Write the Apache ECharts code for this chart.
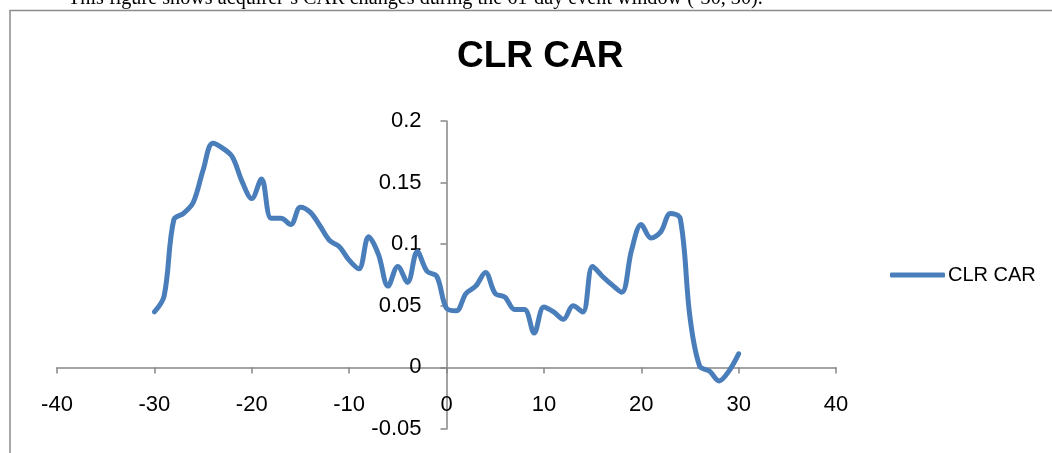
<!DOCTYPE html>
<html>
<head>
<meta charset="utf-8">
<script src="https://cdn.jsdelivr.net/npm/echarts@6/dist/echarts.min.js"></script>
<style>
  html, body { margin: 0; padding: 0; background: #fff; }
  #chart { width: 1052px; height: 453px; }
</style>
</head>
<body>
<div id="chart"></div>
<script>
// Event days of the 61-day window
const days = [];
for (let d = -30; d <= 30; d++) days.push(d);

// Cumulative abnormal return for each event day
const carValues = [
  0.045, 0.058, 0.120, 0.125, 0.134, 0.160, 0.182, 0.178, 0.171, 0.151,
  0.137, 0.153, 0.121, 0.121, 0.116, 0.130, 0.126, 0.115, 0.103, 0.098,
  0.087, 0.080, 0.106, 0.092, 0.066, 0.082, 0.069, 0.094, 0.078, 0.074,
  0.048, 0.046, 0.060, 0.066, 0.077, 0.060, 0.057, 0.047, 0.047, 0.028,
  0.049, 0.045, 0.039, 0.050, 0.045, 0.082, 0.074, 0.067, 0.061, 0.095,
  0.116, 0.105, 0.110, 0.125, 0.121, 0.041, 0.001, -0.003, -0.011, -0.003,
  0.011
];

const seriesName = 'CLR CAR';
const caption = 'This figure shows acquirer\u2019s CAR changes during the 61-day event window (-30, 30).';

const xTicks = { min: -40, max: 40, step: 10 };
const yTicks = { min: -0.05, max: 0.2, step: 0.05 };

const axisGray = '#868686';
const lineBlue = '#4A7EBB';
const labelFont = '"Liberation Sans", Arial, sans-serif';

// plot box
const grid = { left: 57, top: 121, width: 779, height: 308 };

// the axes cross at the origin: shift each one from its grid edge to zero
const yAxisShift = -grid.width * (0 - xTicks.min) / (xTicks.max - xTicks.min);
const xAxisShift = -grid.height * (0 - yTicks.min) / (yTicks.max - yTicks.min);

const chart = echarts.init(document.getElementById('chart'));
chart.setOption({
  animation: false,
  backgroundColor: '#ffffff',
  graphic: [
    {
      type: 'rect',
      shape: { x: 10, y: 10.5, width: 1060, height: 480 },
      style: { fill: 'none', stroke: '#8c8c8c', lineWidth: 1.5 },
      silent: true
    },
    {
      type: 'text',
      x: 68, y: 9,
      style: {
        text: caption,
        font: '20.2px "Liberation Serif", "Times New Roman", serif',
        fill: '#000',
        textVerticalAlign: 'bottom'
      },
      silent: true
    }
  ],
  title: {
    text: seriesName,
    left: 457,
    top: 38,
    padding: 0,
    textStyle: {
      fontFamily: labelFont,
      fontWeight: 'bold',
      fontSize: 37,
      color: '#000'
    }
  },
  legend: {
    data: [seriesName],
    left: 890,
    top: 265,
    padding: 0,
    itemWidth: 55,
    itemHeight: 5,
    itemGap: 4,
    icon: 'roundRect',
    textStyle: { fontFamily: labelFont, fontSize: 20, color: '#000', padding: [0, 0, 0, -2] }
  },
  grid: {
    left: grid.left, top: grid.top, width: grid.width, height: grid.height,
    containLabel: false, outerBoundsMode: 'none'
  },
  xAxis: {
    type: 'value',
    position: 'bottom',
    offset: xAxisShift,
    min: xTicks.min,
    max: xTicks.max,
    interval: xTicks.step,
    axisLine: { onZero: false, lineStyle: { color: axisGray, width: 1.5 } },
    axisTick: { show: true, length: 6, lineStyle: { color: axisGray, width: 1.5 } },
    splitLine: { show: false },
    axisLabel: { fontFamily: labelFont, fontSize: 22, color: '#000', margin: 27 }
  },
  yAxis: {
    type: 'value',
    position: 'left',
    offset: yAxisShift,
    min: yTicks.min,
    max: yTicks.max,
    interval: yTicks.step,
    axisLine: { show: true, onZero: false, lineStyle: { color: axisGray, width: 1.5 } },
    axisTick: { show: true, length: 6, lineStyle: { color: axisGray, width: 1.5 } },
    splitLine: { show: false },
    axisLabel: {
      fontFamily: labelFont, fontSize: 22, color: '#000', margin: 25,
      formatter: v => String(Number(v.toFixed(2)))
    }
  },
  series: [{
    name: seriesName,
    type: 'line',
    data: days.map((d, i) => [d, carValues[i]]),
    smooth: 0.35,
    showSymbol: false,
    symbol: 'none',
    lineStyle: { color: lineBlue, width: 5, cap: 'round', join: 'round' },
    itemStyle: { color: lineBlue }
  }]
});
</script>
</body>
</html>
